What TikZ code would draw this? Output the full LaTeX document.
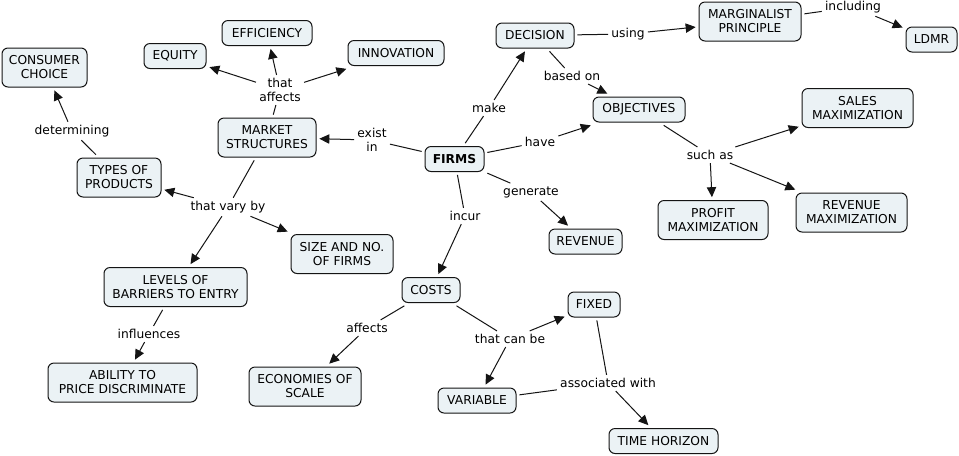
\documentclass[tikz,border=0pt]{standalone}
\usepackage{fontspec}
\setmainfont{DejaVu Sans}
\usetikzlibrary{arrows.meta}
\definecolor{cfill}{RGB}{235,242,245}
\definecolor{cline}{RGB}{20,20,20}
\begin{document}
\begin{tikzpicture}[x=0.75pt,y=-0.75pt,
  font=\fontsize{9.2}{10.5}\selectfont,
  concept/.style={draw=cline, fill=cfill, rounded corners=4.5pt, line width=0.75pt,
    inner sep=0pt, minimum height=25*0.75pt, outer sep=2.5pt, align=center},
  two/.style={concept, minimum height=39*0.75pt},
  bw/.style={minimum width=#1*0.75pt},
  lab/.style={inner sep=2pt, outer sep=0.5pt, align=center},
  link/.style={line width=0.75pt, draw=cline},
  arr/.style={link, -{Triangle[length=7.5pt,width=7pt]}},
]
\useasboundingbox[fill=white] (0,0) rectangle (959,455);

% concepts
\node[two,bw=85] (cc) at (44.5,67.5) {CONSUMER\\CHOICE};
\node[concept,bw=62] (eq) at (175,56) {EQUITY};
\node[concept,bw=90] (ef) at (267,33) {EFFICIENCY};
\node[concept,bw=96] (in) at (396,53) {INNOVATION};
\node[two,bw=98] (ms) at (267,137.5) {MARKET\\STRUCTURES};
\node[two,bw=84] (tp) at (119,177.5) {TYPES OF\\PRODUCTS};
\node[concept,bw=59] (fi) at (454.5,159) {\bfseries FIRMS};
\node[concept,bw=78] (de) at (535,35.5) {DECISION};
\node[two,bw=102] (mp) at (750,21.5) {MARGINALIST\\PRINCIPLE};
\node[concept,bw=51] (ld) at (931.5,39.5) {LDMR};
\node[concept,bw=92] (ob) at (639,109.5) {OBJECTIVES};
\node[two,bw=111] (sm) at (857.5,108) {SALES\\MAXIMIZATION};
\node[two,bw=110] (pm) at (713,220) {PROFIT\\MAXIMIZATION};
\node[two,bw=111] (rm) at (851.5,212.5) {REVENUE\\MAXIMIZATION};
\node[concept,bw=73] (re) at (585.5,241.5) {REVENUE};
\node[two,bw=102] (sz) at (342,254) {SIZE AND NO.\\OF FIRMS};
\node[two,bw=143] (lv) at (175.5,287) {LEVELS OF\\BARRIERS TO ENTRY};
\node[two,bw=149] (ab) at (122.5,382.5) {ABILITY TO\\PRICE DISCRIMINATE};
\node[concept,bw=58] (co) at (431,290) {COSTS};
\node[two,bw=112] (ec) at (305,386.5) {ECONOMIES OF\\SCALE};
\node[concept,bw=52] (fx) at (594,304.5) {FIXED};
\node[concept,bw=78] (va) at (477,400.5) {VARIABLE};
\node[concept,bw=109] (th) at (663.5,441) {TIME HORIZON};

% linking phrases
\node[lab] (l1) at (280,90) {that\\affects};
\node[lab] (l2) at (72,131) {determining};
\node[lab] (l3) at (372,140) {exist\\in};
\node[lab] (l4) at (228,207) {that vary by};
\node[lab] (l5) at (149,334) {influences};
\node[lab] (l6) at (489,108) {make};
\node[lab] (l7) at (628,34) {using};
\node[lab] (l8) at (853,7) {including};
\node[lab] (l9) at (572,76) {based on};
\node[lab] (l10) at (540,142) {have};
\node[lab] (l11) at (710,155) {such as};
\node[lab] (l12) at (531,192) {generate};
\node[lab] (l13) at (465,216) {incur};
\node[lab] (l14) at (367,328) {affects};
\node[lab] (l15) at (510,339) {that can be};
\node[lab] (l16) at (608,383) {associated with};

% connectors
\draw[link] (ms) -- (l1);
\draw[arr] (l1) -- (eq);
\draw[arr] (l1) -- (ef);
\draw[arr] (l1) -- (in);

\draw[link] (tp) -- (l2);
\draw[arr] (l2) -- (cc);

\draw[link] (fi) -- (l3);
\draw[arr] (l3) -- (ms);

\draw[link] (ms) -- (l4);
\draw[arr] (l4) -- (tp);
\draw[arr] (l4) -- (sz);
\draw[arr] (l4) -- (lv);

\draw[link] (lv) -- (l5);
\draw[arr] (l5) -- (ab);

\draw[link] (fi) -- (l6);
\draw[arr] (l6) -- (de);

\draw[link] (de) -- (l7);
\draw[arr] (l7) -- (mp);

\draw[link] (mp) -- (l8);
\draw[arr] (l8) -- (ld);

\draw[link] (de) -- (l9);
\draw[arr] (l9) -- (ob);

\draw[link] (fi) -- (l10);
\draw[arr] (l10) -- (ob);

\draw[link] (ob) -- (l11);
\draw[arr] (l11) -- (sm);
\draw[arr] (l11) -- (pm);
\draw[arr] (l11) -- (rm);

\draw[link] (fi) -- (l12);
\draw[arr] (l12) -- (re);

\draw[link] (fi) -- (l13);
\draw[arr] (l13) -- (co);

\draw[link] (co) -- (l14);
\draw[arr] (l14) -- (ec);

\draw[link] (co) -- (l15);
\draw[arr] (l15) -- (fx);
\draw[arr] (l15) -- (va);

\draw[link] (fx) -- (l16);
\draw[link] (va) -- (l16);
\draw[arr] (l16) -- (th);
\end{tikzpicture}
\end{document}
